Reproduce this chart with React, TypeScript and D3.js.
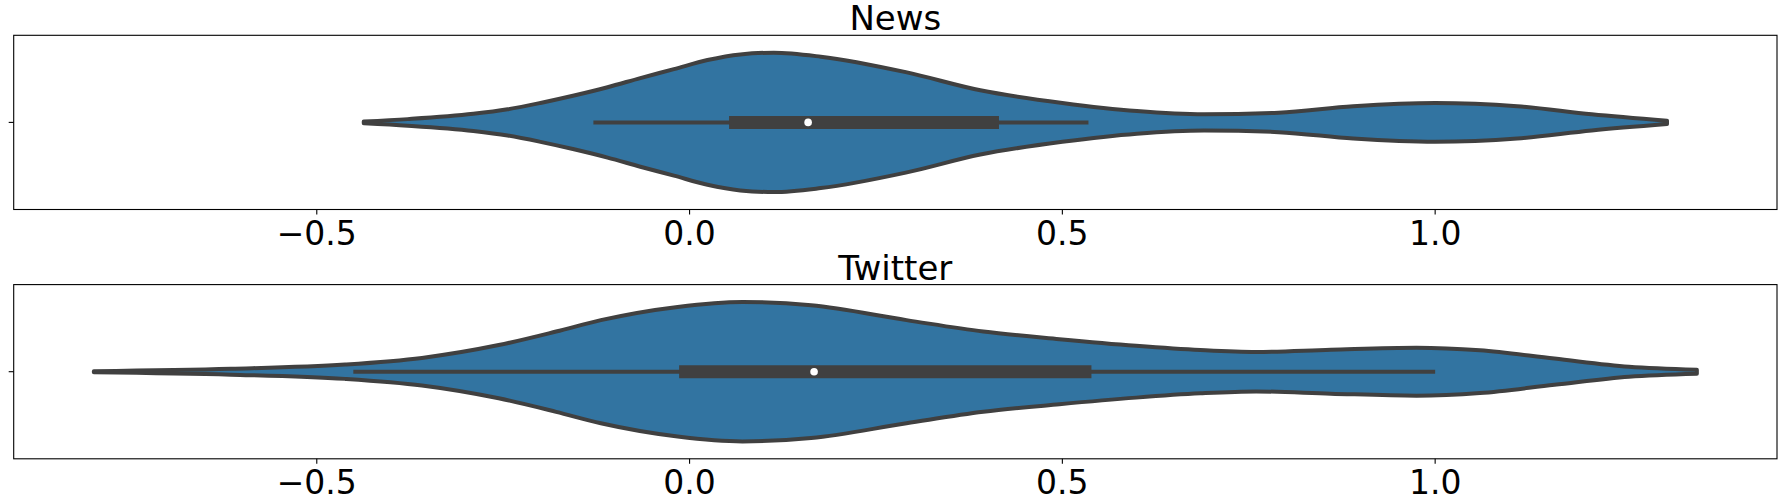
import React from "react";
import * as d3 from "d3";

// ---- data ----
const panelTitles = ["News", "Twitter"];
const xTicks = [-0.5, 0.0, 0.5, 1.0];

// density profile (relative half-width) along the value axis
const newsGrid = [-0.437, -0.378, -0.29, -0.244, -0.2, -0.155, -0.11, -0.066, -0.021, 0.024, 0.068, 0.113, 0.176, 0.29, 0.39, 0.5, 0.6, 0.69, 0.79, 0.89, 1.0, 1.11, 1.21, 1.311];
const newsDensity = [0.012, 0.047, 0.123, 0.188, 0.279, 0.386, 0.505, 0.636, 0.764, 0.895, 0.976, 1.0, 0.943, 0.721, 0.461, 0.279, 0.162, 0.116, 0.14, 0.232, 0.279, 0.232, 0.116, 0.024];

const twitterGrid = [-0.799, -0.615, -0.462, -0.359, -0.256, -0.179, -0.119, -0.016, 0.071, 0.163, 0.291, 0.394, 0.496, 0.599, 0.685, 0.76, 0.86, 0.975, 1.06, 1.16, 1.26, 1.351];
const twitterDensity = [0.007, 0.042, 0.103, 0.198, 0.382, 0.576, 0.74, 0.93, 1.0, 0.952, 0.74, 0.576, 0.467, 0.372, 0.311, 0.283, 0.315, 0.344, 0.307, 0.188, 0.071, 0.028];

// box stats: [whiskerLow, q1, median, q3, whiskerHigh]
const newsBox = [-0.129, 0.053, 0.159, 0.415, 0.535];
const twitterBox = [-0.451, -0.014, 0.167, 0.539, 1.0];

const grids = [newsGrid, twitterGrid];
const densities = [newsDensity, twitterDensity];
const boxes = [newsBox, twitterBox];

const W = 1785;
const H = 501;
const axLeft = 13.7;
const axRight = 1777;
const axTops = [35.3, 284.6];
const axH = 174.2;

const fillColor = "#3274a1";
const lineColor = "#404040";
const fontFamily = "'DejaVu Sans', sans-serif";

export default function App() {
  const allVals = [...newsGrid, ...twitterGrid];
  const mn = d3.min(allVals)!;
  const mx = d3.max(allVals)!;
  const pad = (mx - mn) * 0.05;
  const x = d3.scaleLinear().domain([mn - pad, mx + pad]).range([axLeft, axRight]);

  return (
    <svg width={W} height={H} style={{ position: "absolute", left: 0, top: 0, background: "#fff" }}>
      {panelTitles.map((title, i) => {
        const top = axTops[i];
        const y = d3.scaleLinear().domain([-0.5, 0.5]).range([top, top + axH]);
        const cy = y(0);
        const hw = y(0.4) - y(0);
        const pts = grids[i].map((g, j) => ({ v: g, d: densities[i][j] }));
        const area = d3
          .area<{ v: number; d: number }>()
          .x((p) => x(p.v))
          .y0((p) => cy + hw * p.d)
          .y1((p) => cy - hw * p.d)
          .curve(d3.curveMonotoneX);
        const b = boxes[i];
        return (
          <g key={title}>
            <text
              x={(axLeft + axRight) / 2}
              y={top - 5}
              textAnchor="middle"
              fontFamily={fontFamily}
              fontSize={34}
              fill="#000"
            >
              {title}
            </text>
            <path d={area(pts) || ""} fill={fillColor} stroke={lineColor} strokeWidth={4} strokeLinejoin="round" />
            <line x1={x(b[0])} x2={x(b[4])} y1={cy} y2={cy} stroke={lineColor} strokeWidth={4} />
            <line x1={x(b[1])} x2={x(b[3])} y1={cy} y2={cy} stroke={lineColor} strokeWidth={13} />
            <circle cx={x(b[2])} cy={cy} r={3.8} fill="#fff" />
            <rect x={axLeft} y={top} width={axRight - axLeft} height={axH} fill="none" stroke="#000" strokeWidth={1.1} />
            <line x1={axLeft - 5} x2={axLeft} y1={cy} y2={cy} stroke="#000" strokeWidth={1.1} />
            {xTicks.map((t) => (
              <g key={t}>
                <line x1={x(t)} x2={x(t)} y1={top + axH} y2={top + axH + 5} stroke="#000" strokeWidth={1.1} />
                <text
                  x={x(t)}
                  y={top + axH + 35}
                  textAnchor="middle"
                  fontFamily={fontFamily}
                  fontSize={33}
                  fill="#000"
                >
                  {t < 0 ? "\u2212" + Math.abs(t).toFixed(1) : t.toFixed(1)}
                </text>
              </g>
            ))}
          </g>
        );
      })}
    </svg>
  );
}
